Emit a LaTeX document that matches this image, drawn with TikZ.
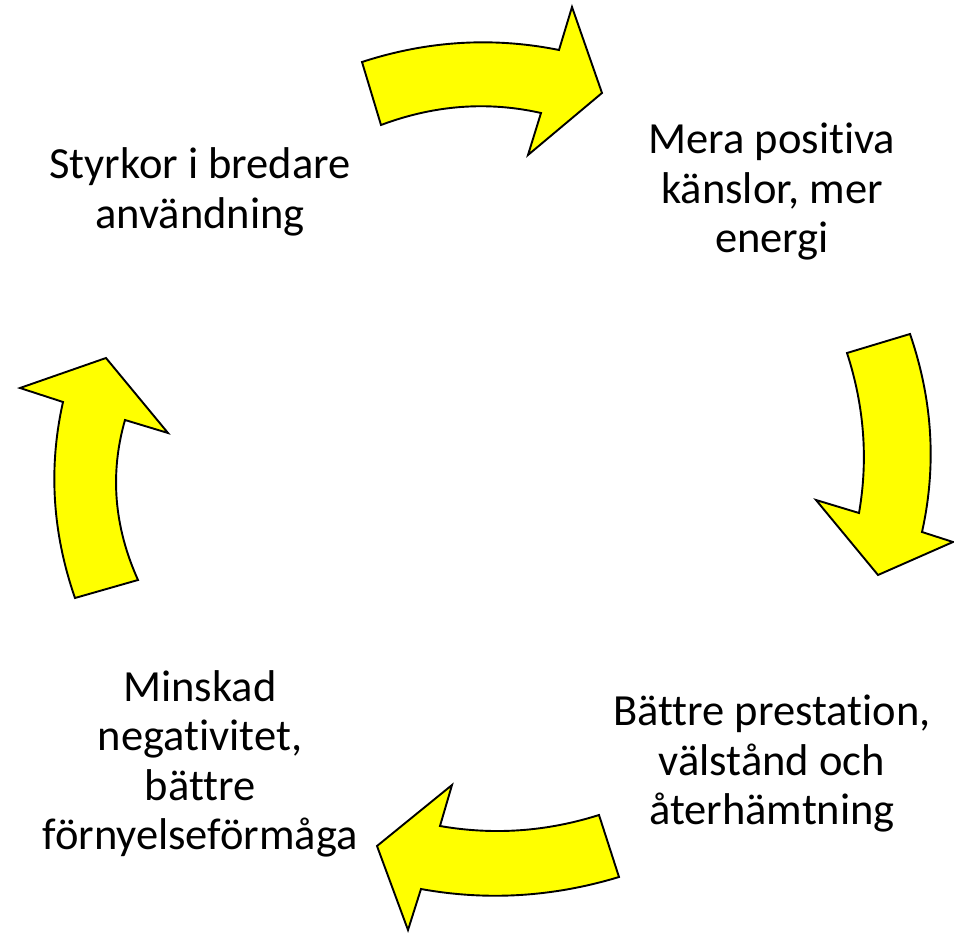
\documentclass[tikz,border=0pt]{standalone}
\usepackage{fontspec}
\setmainfont{Carlito}[RawFeature={-liga;-clig;-calt;-dlig}]
\begin{document}
\begin{tikzpicture}[x=1pt,y=-1pt,
  cyclearrow/.style={draw=black, line width=1.9pt, line join=miter, fill={rgb,255:red,255;green,255;blue,0}},
  label/.style={align=center, inner sep=0pt, font=\fontsize{44.5}{49.5}\selectfont}]
\useasboundingbox (0,0) rectangle (954,933);

% top arrow, pointing right
\draw[cyclearrow] (362,62) .. controls (427.3,40.7) and (493,36.7) .. (559,50) -- (572,7) -- (602,93)
  -- (528,155) -- (541,113) .. controls (487.7,101) and (434.3,105) .. (381,125) -- cycle;

% right arrow, pointing down
\draw[cyclearrow] (847,353) -- (910,334) .. controls (932.7,400) and (936.7,466) .. (922,532) -- (953,542)
  -- (878,575) -- (816,500) -- (859,513) .. controls (868.3,459.7) and (864.3,406.3) .. cycle;

% bottom arrow, pointing left
\draw[cyclearrow] (599,815) -- (619,877) .. controls (553,897) and (487,901) .. (421,889) -- (408,930)
  -- (377,846) -- (452,785) -- (440,826) .. controls (493.3,835.3) and (546.3,831.7) .. cycle;

% left arrow, pointing up
\draw[cyclearrow] (75,598) -- (138,580) .. controls (114,526.7) and (109.7,473.3) .. (125,420) -- (168,433)
  -- (106,358) -- (20,388) -- (63,402) .. controls (48.3,467.3) and (52.3,532.7) .. cycle;

\node[label] (strengths) at (200,192) {Styrkor i bredare\\användning};
\node[label] (emotions) at (772,192) {Mera positiva\\känslor, mer\\energi};
\node[label] (performance) at (772,764) {Bättre prestation,\\välstånd och\\återhämtning};
\node[label] (renewal) at (200,764) {Minskad\\negativitet,\\bättre\\förnyelseförmåga};
\end{tikzpicture}
\end{document}
